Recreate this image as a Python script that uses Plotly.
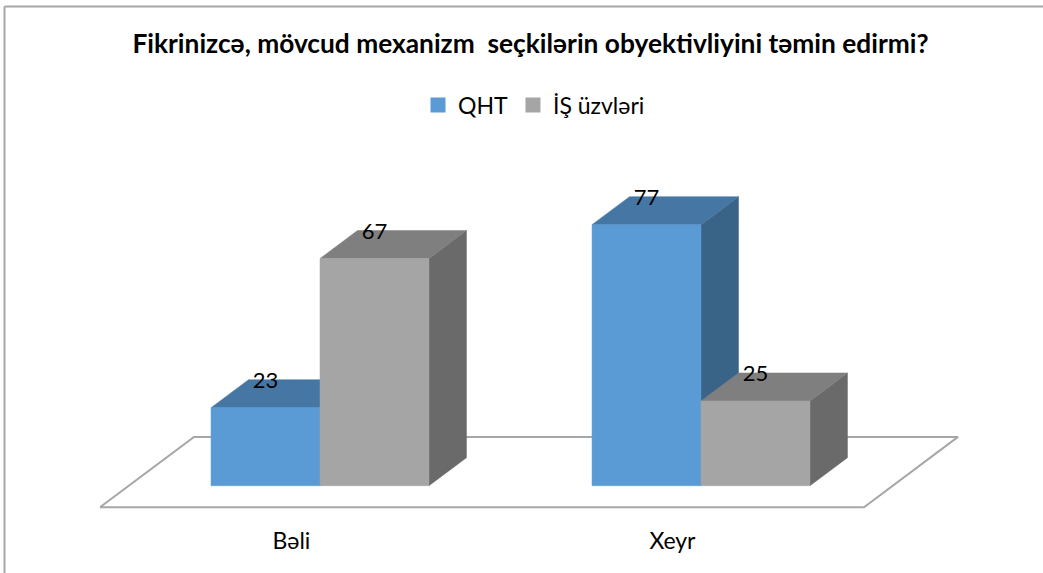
import plotly.graph_objects as go

# ---- data ----
title_text = "Fikrinizcə, mövcud mexanizm  seçkilərin obyektivliyini təmin edirmi?"
categories = ["Bəli", "Xeyr"]
series_names = ["QHT", "İŞ üzvləri"]
qht_values = [23, 77]
is_values = [67, 25]

# ---- style ----
FRONT = ["#5B9BD5", "#A5A5A5"]
TOP = ["#4676A3", "#7F7F7F"]
SIDE = ["#3A6487", "#6A6A6A"]
FONT = "Lato"

W, H = 1043, 573
BAR_W = 0.286      # bar width in category units
DX, DY = 0.0984, 8.26  # oblique depth offset (axis units)
LABEL_UP = 7.4
X_RANGE = [-320 / 381, (W - 320) / 381]
Y_RANGE = [(485.7 - 515) / 3.39, 485.7 / 3.39]
FLOOR_Y = -6.37
FLOOR_BACK_Y = 14.4
FLOOR_X = [-0.5774, -0.3307, 1.6745, 1.4278]
CAT_SHIFT = -0.075

fig = go.Figure()


def face(xs, ys, color, line=None):
    fig.add_trace(go.Scatter(
        x=xs + xs[:1], y=ys + ys[:1], mode="lines", fill="toself", fillcolor=color,
        line=dict(color=line or color, width=1 if line else 0.5),
        hoverinfo="skip", showlegend=False))


# floor
face([FLOOR_X[0], FLOOR_X[1], FLOOR_X[2], FLOOR_X[3]],
     [FLOOR_Y, FLOOR_BACK_Y, FLOOR_BACK_Y, FLOOR_Y], "#FFFFFF", None)
fig.data[-1].line.color = "#A6A6A6"
fig.data[-1].line.width = 2

all_values = [qht_values, is_values]
for c in range(len(categories)):
    for s in range(len(series_names)):
        v = all_values[s][c]
        x0 = c - BAR_W + s * BAR_W
        x1 = x0 + BAR_W
        face([x1, x1 + DX, x1 + DX, x1], [0, DY, v + DY, v], SIDE[s])
        face([x0, x1, x1 + DX, x0 + DX], [v, v, v + DY, v + DY], TOP[s])
        face([x0, x1, x1, x0], [0, 0, v, v], FRONT[s])

# data labels
for s, vals in enumerate(all_values):
    fig.add_trace(go.Scatter(
        x=[c - BAR_W + s * BAR_W + BAR_W / 2 for c in range(len(categories))],
        y=[v + LABEL_UP for v in vals],
        text=[str(v) for v in vals], mode="text", textposition="middle center",
        textfont=dict(family=FONT, size=22, color="#000000"),
        hoverinfo="skip", showlegend=False))

# legend entries
for s, name in enumerate(series_names):
    fig.add_trace(go.Scatter(
        x=[None], y=[None], mode="markers", name=name,
        marker=dict(symbol="square", size=15, color=FRONT[s])))

fig.update_layout(
    width=W, height=H, autosize=False,
    margin=dict(l=0, r=0, t=0, b=58, pad=0),
    paper_bgcolor="#FFFFFF", plot_bgcolor="#FFFFFF",
    font=dict(family=FONT, color="#000000"),
    title=dict(text="<b>" + title_text + "</b>", x=530.5 / W, xanchor="center",
               xref="paper", y=1 - 44 / H, yanchor="middle",
               font=dict(family=FONT, size=26.3, color="#000000")),
    legend=dict(orientation="h", x=418 / W, xanchor="left", y=1 - 83.5 / 515, yanchor="top",
                font=dict(family=FONT, size=23), itemsizing="trace",
                bgcolor="rgba(0,0,0,0)", tracegroupgap=0),
    xaxis=dict(range=X_RANGE, tickmode="array",
               tickvals=[i + CAT_SHIFT for i in range(len(categories))],
               ticktext=categories, showgrid=False, zeroline=False, showline=False,
               ticks="", tickfont=dict(family=FONT, size=23), automargin=False,
               ticklabelstandoff=10),
    yaxis=dict(range=Y_RANGE, visible=False, showgrid=False, zeroline=False),
    shapes=[
        dict(type="line", xref="paper", yref="paper", x0=4.5 / W, x1=4.5 / W, y0=1 - 6.5 / 515,
             y1=1 - 573 / 515, line=dict(color="#A6A6A6", width=2)),
        dict(type="line", xref="paper", yref="paper", x0=4.5 / W, x1=1, y0=1 - 6.5 / 515,
             y1=1 - 6.5 / 515, line=dict(color="#A6A6A6", width=2)),
    ],
)

fig.write_html("out.html", config={"displayModeBar": False},
               post_script="document.body.style.margin='0';document.body.style.overflow='hidden';")
